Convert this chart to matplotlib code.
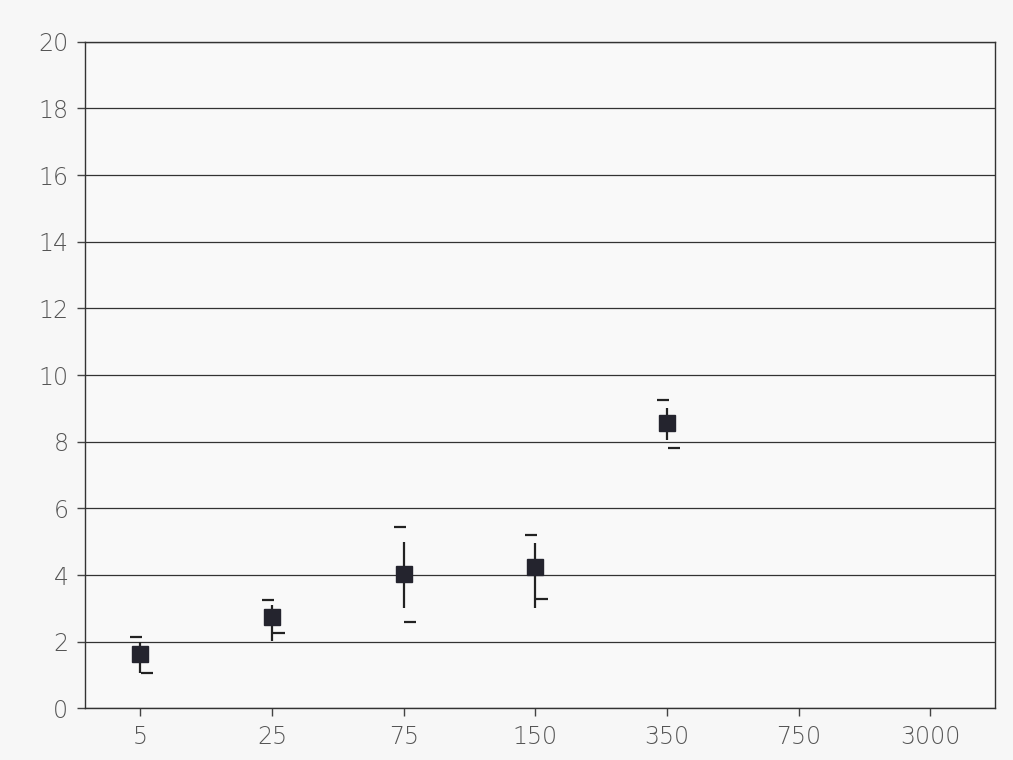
import numpy as np
import matplotlib
matplotlib.use('Agg')
import matplotlib.pyplot as plt

categories = ['5', '25', '75', '150', '350', '750', '3000']
# values (only the first five groups have data)
means = [1.64, 2.75, 4.03, 4.25, 8.55]
line_hi = [2.0, 3.1, 5.0, 4.95, 9.0]
line_lo = [1.05, 2.03, 3.0, 3.0, 8.05]
dash_hi = [2.15, 3.25, 5.43, 5.2, 9.25]
dash_lo = [1.05, 2.27, 2.6, 3.28, 7.8]

fig = plt.figure(figsize=(10.13, 7.6), dpi=100)
fig.patch.set_facecolor('#f7f7f7')
ax = fig.add_axes([0.084, 0.068, 0.898, 0.877])
ax.set_facecolor('#f9f9f9')

x = np.arange(len(means))
ax.vlines(x, line_lo, line_hi, color='#222222', lw=1.6, zorder=3)
ax.plot(x - 0.03, dash_hi, '_', color='#222222', ms=8, mew=1.6, zorder=3)
ax.plot(x + 0.05, dash_lo, '_', color='#222222', ms=8, mew=1.6, zorder=3)
ax.plot(x, means, 's', color='#24242e', ms=11, zorder=4)

ax.set_ylim(0, 20)
ax.set_xlim(-0.42, 6.49)
ax.set_yticks(np.arange(0, 21, 2))
ax.set_xticks(np.arange(len(categories)))
ax.set_xticklabels(categories)
ax.yaxis.grid(True, color='#333333', lw=0.9)
ax.set_axisbelow(True)
for s in ax.spines.values():
    s.set_color('#333333')
    s.set_linewidth(1.0)
ax.tick_params(axis='both', direction='out', length=6, width=1, color='#444444',
               labelsize=17, labelcolor='#555555', pad=6)
for lab in ax.get_xticklabels() + ax.get_yticklabels():
    lab.set_fontweight('light')

fig.savefig('out.png', dpi=100, facecolor=fig.get_facecolor())
